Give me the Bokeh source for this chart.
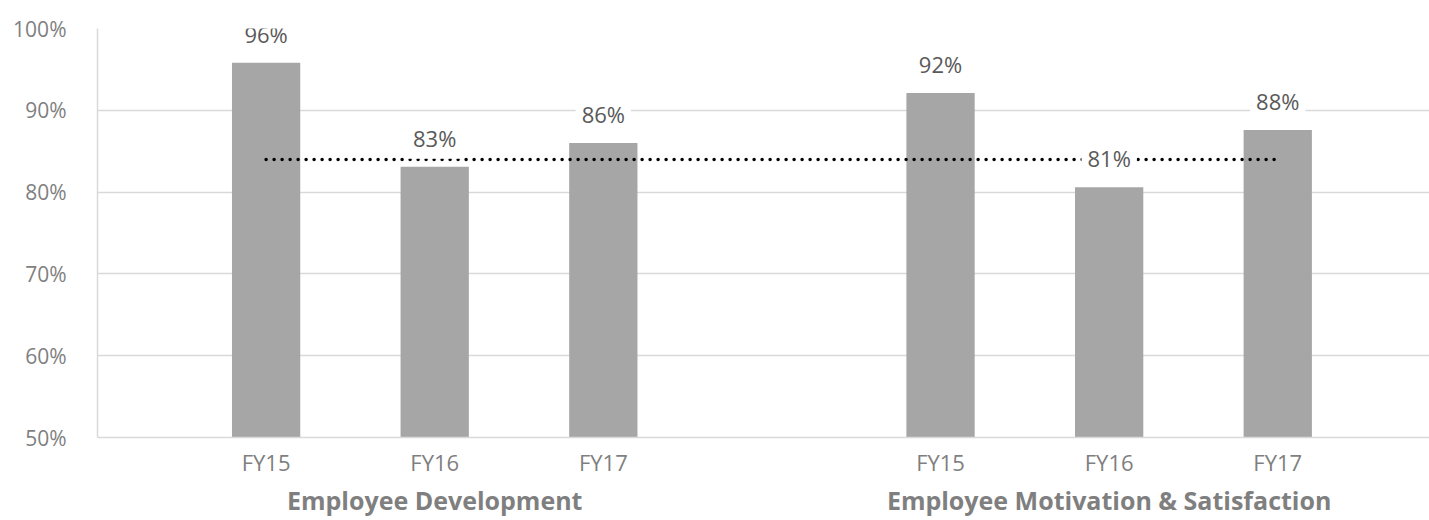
from bokeh.plotting import figure
from bokeh.models import ColumnDataSource, Label, Range1d, FixedTicker, LinearAxis
from bokeh.embed import file_html
from bokeh.resources import INLINE

groups = ["Employee Development", "Employee Motivation & Satisfaction"]
years = ["FY15", "FY16", "FY17"]
dev_values = [95.8, 83.1, 86.0]
mot_values = [92.1, 80.6, 87.6]
benchmark = 84.0
y_ticks = [50, 60, 70, 80, 90, 100]

series = [dev_values, mot_values]
xs, vals, cats, texts = [], [], [], []
for g, vlist in enumerate(series):
    for i, v in enumerate(vlist):
        xs.append(g * (len(years) + 1) + i + 1)
        vals.append(v)
        cats.append(years[i])
        texts.append(f"{round(v)}%")

src = ColumnDataSource(dict(x=xs, top=vals, text=texts))

FONT = "Open Sans"
p = figure(width=1429, height=520, output_backend="svg", toolbar_location=None,
           x_range=Range1d(0, 7.9), y_range=Range1d(y_ticks[0], y_ticks[-1]),
           min_border_left=97, min_border_right=0, min_border_top=28, min_border_bottom=83)
p.outline_line_color = None
p.background_fill_color = "white"

p.vbar(x="x", top="top", bottom=y_ticks[0], width=0.405, source=src,
       color="#a6a6a6", line_color=None)
p.line(x=[xs[0], xs[-1]], y=[benchmark, benchmark], line_color="black", line_width=3.5,
       line_dash="0 8", line_cap="round")

for x, v, t in zip(xs, vals, texts):
    p.add_layout(Label(x=x, y=v, text=t, y_offset=29, text_align="center",
                       text_baseline="middle", text_font=FONT, text_font_size="22px",
                       text_color="#595959", background_fill_color="white", padding=6))

p.xgrid.grid_line_color = None
p.ygrid.grid_line_color = "#d9d9d9"
p.ygrid.grid_line_width = 1.5
p.ygrid.ticker = FixedTicker(ticks=y_ticks)

p.yaxis.ticker = FixedTicker(ticks=y_ticks)
p.yaxis.major_label_overrides = {t: f"{t}%" for t in y_ticks}
p.yaxis.axis_line_color = "#d9d9d9"
p.yaxis.axis_line_width = 1.5
p.yaxis.major_tick_line_color = None
p.yaxis.minor_tick_line_color = None
p.yaxis.major_label_standoff = 25
p.yaxis.major_label_text_font = FONT
p.yaxis.major_label_text_font_size = "21px"
p.yaxis.major_label_text_color = "#7f7f7f"

p.xaxis.ticker = FixedTicker(ticks=xs)
p.xaxis.major_label_overrides = {x: c for x, c in zip(xs, cats)}
p.xaxis.axis_line_color = "#d9d9d9"
p.xaxis.axis_line_width = 1.5
p.xaxis.major_tick_line_color = None
p.xaxis.minor_tick_line_color = None
p.xaxis.major_label_standoff = 3
p.xaxis.major_label_text_font = FONT
p.xaxis.major_label_text_font_size = "22px"
p.xaxis.major_label_text_color = "#7f7f7f"

n = len(years)
centers = [sum(xs[g * n:(g + 1) * n]) / n for g in range(len(groups))]
gax = LinearAxis(ticker=FixedTicker(ticks=centers),
                 major_label_overrides={c: name for c, name in zip(centers, groups)})
gax.axis_line_color = None
gax.major_tick_line_color = None
gax.minor_tick_line_color = None
gax.major_label_standoff = -3
gax.major_label_text_font = FONT
gax.major_label_text_font_size = "25px"
gax.major_label_text_font_style = "bold"
gax.major_label_text_color = "#7f7f7f"
p.add_layout(gax, "below")

open("out.html", "w").write(file_html(p, INLINE))
